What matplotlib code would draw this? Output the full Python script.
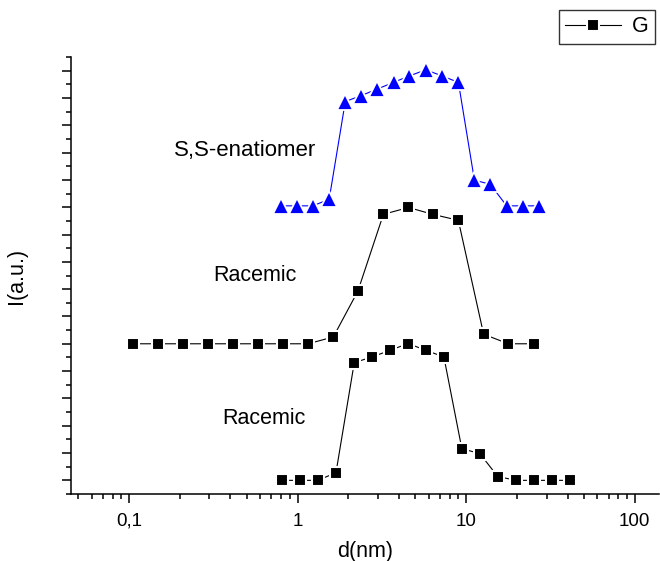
import matplotlib
matplotlib.use("Agg")
import matplotlib.pyplot as plt
from matplotlib.ticker import FuncFormatter, LogLocator, MultipleLocator, NullFormatter

plt.rcParams['font.family'] = ['Liberation Sans', 'DejaVu Sans']

# S,S-enantiomer (blue triangles)
ss_d = [0.80, 0.99, 1.23, 1.54, 1.92, 2.37, 2.95, 3.71, 4.61, 5.77, 7.18, 9.0, 11.2, 13.9, 17.4, 21.7, 27.0]
ss_i = [10.05, 10.05, 10.05, 10.29, 13.87, 14.08, 14.32, 14.57, 14.81, 15.03, 14.81, 14.57, 10.99, 10.84, 10.05, 10.05, 10.05]

# racemic, middle curve
rac1_d = [0.105, 0.148, 0.209, 0.294, 0.413, 0.584, 0.818, 1.155, 1.63, 2.28, 3.23, 4.55, 6.34, 8.99, 12.7, 17.8, 25.1]
rac1_i = [5.0, 5.0, 5.0, 5.0, 5.0, 5.0, 5.0, 5.0, 5.25, 6.93, 9.74, 9.99, 9.74, 9.52, 5.35, 5.0, 5.0]

# racemic, bottom curve
rac2_d = [0.807, 1.036, 1.32, 1.69, 2.17, 2.77, 3.54, 4.53, 5.77, 7.38, 9.43, 12.06, 15.4, 19.8, 25.3, 32.4, 41.2]
rac2_i = [0.0, 0.0, 0.0, 0.28, 4.31, 4.52, 4.76, 5.01, 4.76, 4.52, 1.16, 0.98, 0.14, 0.0, 0.0, 0.0, 0.0]

fig = plt.figure(figsize=(6.6, 5.61), dpi=100)
ax = fig.add_axes([71 / 660, 1 - 494 / 561, 1 - 71 / 660 - 0.001, (494 - 57) / 561])

ax.plot(ss_d, ss_i, color='blue', lw=0.8, marker='^', ms=11.5, mfc='blue',
        mec='white', mew=1.3, zorder=3)
ax.plot(rac1_d, rac1_i, color='black', lw=0.8, marker='s', ms=8.4, mfc='black',
        mec='white', mew=1.5, zorder=3, label='G')
ax.plot(rac2_d, rac2_i, color='black', lw=0.8, marker='s', ms=8.4, mfc='black',
        mec='white', mew=1.5, zorder=3)

ax.text(0.489, 11.89, 'S,S-enatiomer', fontsize=16, ha='center', va='baseline')
ax.text(0.56, 7.29, 'Racemic', fontsize=15.5, ha='center', va='baseline')
ax.text(0.634, 2.05, 'Racemic', fontsize=15.5, ha='center', va='baseline')

ax.set_xscale('log')
ax.set_xlim(0.0453, 140)
ax.set_ylim(-0.5, 15.5)

ax.xaxis.set_major_locator(LogLocator(base=10, numticks=10))
ax.xaxis.set_minor_locator(LogLocator(base=10, subs=range(2, 10), numticks=20))
ax.xaxis.set_minor_formatter(NullFormatter())
ax.xaxis.set_major_formatter(FuncFormatter(lambda v, p: ('%g' % v).replace('.', ',')))
ax.yaxis.set_major_locator(MultipleLocator(1))
ax.yaxis.set_minor_locator(MultipleLocator(0.5))
ax.set_yticklabels([])

for side in ['top', 'right']:
    ax.spines[side].set_visible(False)
for side in ['left', 'bottom']:
    ax.spines[side].set_linewidth(1.1)
ax.tick_params(which='major', direction='out', length=6.5, width=1.1, labelsize=13.5, pad=7)
ax.tick_params(which='minor', direction='out', length=3.5, width=1.1)

ax.set_xlabel('d(nm)', fontsize=15.5, labelpad=8)
ax.set_ylabel('I(a.u.)', fontsize=15.5, labelpad=18)

leg = ax.legend(loc='upper right', bbox_to_anchor=(655 / 660, 1 - 10 / 561),
                bbox_transform=fig.transFigure, fontsize=15.5, frameon=True,
                fancybox=False, handlelength=2.6, borderpad=0.3, handletextpad=0.5,
                borderaxespad=0)
leg.get_frame().set_edgecolor('black')
leg.get_frame().set_linewidth(1.0)

fig.savefig('out.png', dpi=100)
